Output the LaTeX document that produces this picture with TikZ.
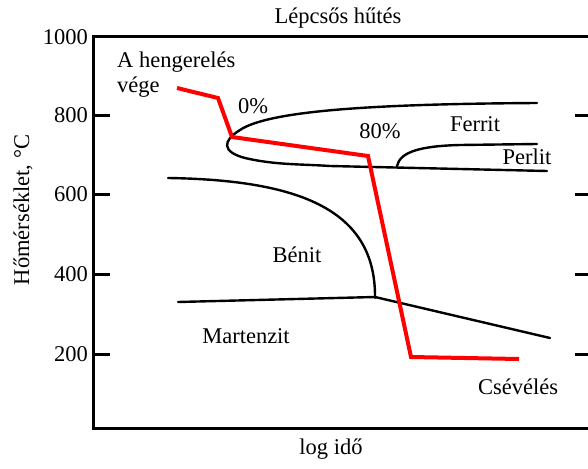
\documentclass[tikz,border=0pt]{standalone}
\usepackage{fontspec}
\setmainfont{Liberation Serif}
\begin{document}
\begin{tikzpicture}[x=1pt,y=-1pt,
  lbl/.style={inner sep=0pt,font=\fontsize{22.5}{25}\selectfont},
  axisline/.style={line width=3pt},
  curve/.style={line width=2.4pt,line cap=round},
  path red/.style={line width=4pt,red,line join=miter}]
\useasboundingbox (0,0) rectangle (588,468);

% frame (right side runs off the page)
\draw[axisline] (620,37) -- (93,37) -- (93,428) -- (620,428);
\foreach \yy/\t in {115/800,194/600,274/400,354/200}{
  \draw[axisline] (93,\yy) -- (110,\yy);
  \draw[axisline] (575,\yy) -- (600,\yy);
  \node[lbl,anchor=east] (t\t) at (88,\yy) {\t};
}
\node[lbl,anchor=east] (t1000) at (88,37) {1000};

% titles
\node[lbl] (title) at (338,18) {Lépcsős hűtés};
\node[lbl] (xlab) at (331,449) {log idő};
\node[lbl,rotate=90] (ylab) at (23,210) {Hőmérséklet, °C};

% ferrite start curve (nose)
\draw[curve] (537,103) .. controls (380,104) and (270,110) .. (240,130)
  .. controls (222,141) and (222,152) .. (245,158)
  .. controls (275,165) and (300,164) .. (330,166)
  -- (547,171);
% pearlite start
\draw[curve] (397,166) .. controls (400,152) and (420,146) .. (460,145) -- (537,144);
% bainite
\draw[curve] (168,178) .. controls (300,180) and (376,210) .. (375,298);
% martensite start
\draw[curve] (178,302) -- (375,297) -- (550,338);

% cooling path
\draw[path red] (177,88) -- (218,98) -- (232,137) -- (368,156) -- (411,357) -- (519,359);

% region labels
\node[lbl,anchor=west,align=left] (start) at (117,75) {A hengerelés\\vége};
\node[lbl] (p0) at (253,106) {0\%};
\node[lbl] (p80) at (380,131) {80\%};
\node[lbl] (ferrit) at (475,124) {Ferrit};
\node[lbl] (perlit) at (527,157) {Perlit};
\node[lbl] (benit) at (297,255) {Bénit};
\node[lbl] (mart) at (246,336) {Martenzit};
\node[lbl] (csev) at (518,387) {Csévélés};
\end{tikzpicture}
\end{document}
